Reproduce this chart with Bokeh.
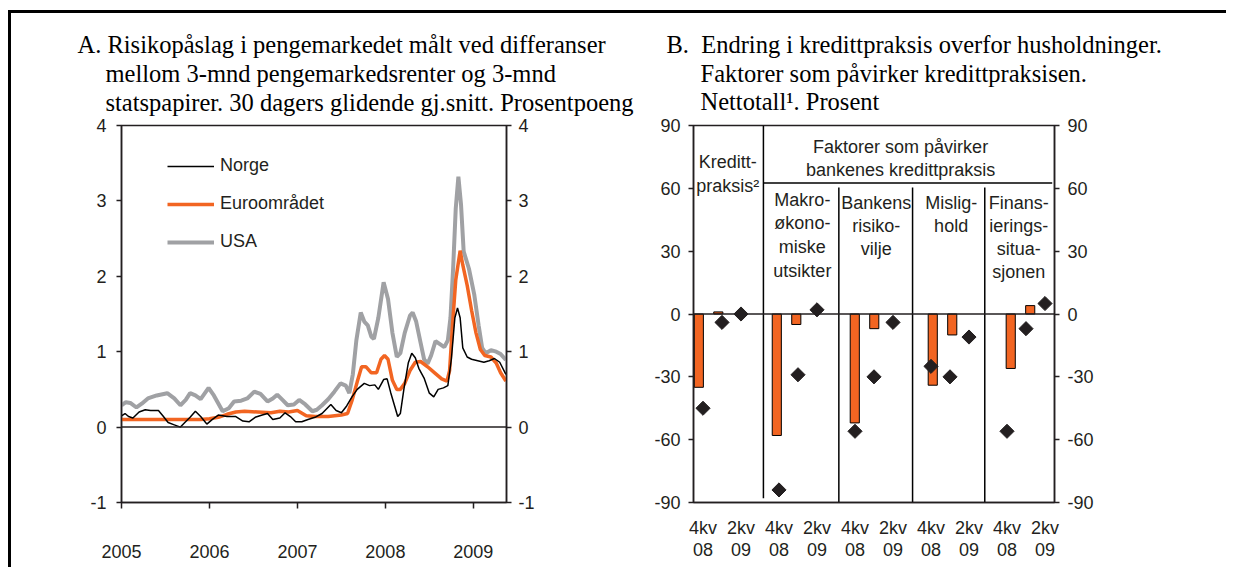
from bokeh.plotting import figure
from bokeh.models import (Range1d, LinearAxis, FixedTicker, Span, Spacer,
                          Legend, LegendItem, NumeralTickFormatter)
from bokeh.layouts import row, column
from bokeh.embed import file_html
from bokeh.resources import INLINE
from bokeh.core.properties import value

# ---------------- Panel A data (decimal years, percentage points) ----------------
norge_t = [2005.00, 2005.04, 2005.08, 2005.13, 2005.20, 2005.27, 2005.33, 2005.42, 2005.47, 2005.53,
           2005.60, 2005.67, 2005.72, 2005.78, 2005.84, 2005.90, 2005.97, 2006.03, 2006.10, 2006.20,
           2006.30, 2006.38, 2006.45, 2006.52, 2006.60, 2006.66, 2006.72, 2006.80, 2006.86, 2006.92,
           2006.98, 2007.05, 2007.12, 2007.20, 2007.28, 2007.38, 2007.44, 2007.50, 2007.56, 2007.62,
           2007.68, 2007.76, 2007.82, 2007.88, 2007.92, 2007.98, 2008.02, 2008.06, 2008.10, 2008.14,
           2008.17, 2008.21, 2008.26, 2008.30, 2008.34, 2008.38, 2008.44, 2008.50, 2008.55, 2008.60,
           2008.66, 2008.71, 2008.75, 2008.79, 2008.82, 2008.85, 2008.88, 2008.93, 2008.98, 2009.05,
           2009.12, 2009.18, 2009.24, 2009.30, 2009.37]
norge_v = [0.15, 0.18, 0.14, 0.12, 0.20, 0.23, 0.22, 0.22, 0.15, 0.06,
           0.03, 0.00, 0.06, 0.13, 0.21, 0.14, 0.04, 0.10, 0.16, 0.14,
           0.14, 0.08, 0.07, 0.13, 0.16, 0.18, 0.10, 0.12, 0.19, 0.14,
           0.07, 0.07, 0.10, 0.13, 0.18, 0.30, 0.22, 0.19, 0.28, 0.40,
           0.50, 0.58, 0.55, 0.56, 0.50, 0.63, 0.64, 0.46, 0.30, 0.14,
           0.18, 0.50, 0.85, 0.98, 0.92, 0.78, 0.65, 0.45, 0.40, 0.50,
           0.52, 0.55, 0.90, 1.45, 1.58, 1.45, 1.05, 0.93, 0.90, 0.88,
           0.86, 0.88, 0.91, 0.86, 0.70]

euro_t = [2005.00, 2005.30, 2005.60, 2005.90, 2006.00, 2006.10, 2006.20, 2006.30, 2006.40, 2006.55,
          2006.70, 2006.80, 2006.90, 2007.00, 2007.10, 2007.20, 2007.35, 2007.50, 2007.57, 2007.62,
          2007.68, 2007.73, 2007.78, 2007.84, 2007.90, 2007.95, 2007.99, 2008.03, 2008.08, 2008.13,
          2008.17, 2008.22, 2008.28, 2008.34, 2008.40, 2008.48, 2008.56, 2008.64, 2008.70, 2008.73,
          2008.76, 2008.80, 2008.85, 2008.88, 2008.93, 2008.98, 2009.03, 2009.08, 2009.13, 2009.20,
          2009.26, 2009.31, 2009.37]
euro_v = [0.10, 0.10, 0.10, 0.10, 0.11, 0.13, 0.17, 0.20, 0.21, 0.20,
          0.19, 0.21, 0.20, 0.22, 0.15, 0.14, 0.14, 0.16, 0.18, 0.35,
          0.60, 0.80, 0.80, 0.72, 0.72, 0.90, 0.95, 0.90, 0.62, 0.50,
          0.50, 0.58, 0.75, 0.86, 0.87, 0.80, 0.72, 0.64, 0.61, 0.75,
          1.30, 1.95, 2.34, 2.15, 1.88, 1.55, 1.25, 1.03, 0.95, 0.93,
          0.85, 0.72, 0.61]

usa_t = [2005.00, 2005.05, 2005.10, 2005.17, 2005.23, 2005.30, 2005.40, 2005.52, 2005.60, 2005.67,
         2005.73, 2005.78, 2005.84, 2005.90, 2005.99, 2006.05, 2006.15, 2006.22, 2006.28, 2006.36,
         2006.43, 2006.51, 2006.58, 2006.66, 2006.72, 2006.77, 2006.83, 2006.89, 2006.96, 2007.02,
         2007.09, 2007.17, 2007.22, 2007.28, 2007.35, 2007.42, 2007.49, 2007.55, 2007.59, 2007.63,
         2007.67, 2007.72, 2007.76, 2007.80, 2007.84, 2007.87, 2007.92, 2007.98, 2008.03, 2008.08,
         2008.13, 2008.17, 2008.22, 2008.28, 2008.31, 2008.35, 2008.40, 2008.44, 2008.48, 2008.52,
         2008.57, 2008.62, 2008.67, 2008.71, 2008.74, 2008.77, 2008.80, 2008.83, 2008.86, 2008.89,
         2008.95, 2009.01, 2009.06, 2009.10, 2009.14, 2009.20, 2009.26, 2009.31, 2009.37]
usa_v = [0.29, 0.33, 0.32, 0.26, 0.31, 0.38, 0.42, 0.45, 0.38, 0.29,
         0.36, 0.45, 0.42, 0.37, 0.52, 0.42, 0.21, 0.25, 0.34, 0.35,
         0.38, 0.47, 0.44, 0.34, 0.38, 0.43, 0.36, 0.29, 0.30, 0.36,
         0.30, 0.21, 0.23, 0.29, 0.37, 0.47, 0.58, 0.55, 0.45, 0.70,
         1.15, 1.52, 1.40, 1.35, 1.20, 1.17, 1.45, 1.92, 1.70, 1.25,
         0.93, 0.98, 1.25, 1.48, 1.52, 1.40, 1.12, 0.90, 0.84, 0.95,
         1.14, 1.10, 1.06, 1.15, 1.45, 2.10, 2.90, 3.32, 2.95, 2.33,
         2.10, 1.76, 1.35, 1.05, 0.98, 1.02, 1.00, 0.97, 0.89]

year_ticks = [2005, 2006, 2007, 2008, 2009]
a_y_ticks = [-1, 0, 1, 2, 3, 4]

# ---------------- Panel B data (net figures, percent) ----------------
groups = ["Kredittpraksis", "Makroøkonomiske utsikter", "Bankens risikovilje",
          "Mislighold", "Finansieringssituasjonen"]
bar_4kv08 = [-35, -58, -52, -34, -26]
bar_1kv09 = [1, -5, -7, -10, 4]
dia_4kv08 = [-45, -84, -56, -25, -56]
dia_1kv09 = [-4, -29, -30, -30, -7]
dia_2kv09 = [0, 2, -4, -11, 5]
quarter_names = ["4kv", "2kv"]
quarter_years = ["08", "09"]
b_y_ticks = [-90, -60, -30, 0, 30, 60, 90]

# ---------------- titles ----------------
title_a = ["A. Risikopåslag i pengemarkedet målt ved differanser",
           "mellom 3-mnd pengemarkedsrenter og 3-mnd",
           "statspapirer. 30 dagers glidende gj.snitt. Prosentpoeng"]
title_b = ["B. \u00a0Endring i kredittpraksis overfor husholdninger.",
           "Faktorer som påvirker kredittpraksisen.",
           "Nettotall¹. Prosent"]

# ---------------- styling ----------------
ORANGE = "#F26522"
GREY = "#A0A1A4"
INK = "#231F20"
SANS = "Liberation Sans"
SERIF = "Liberation Serif"
WA, WB = 639, 576
HEAD_H = 104
H = 450


def hyphen_labels(ticks):
    return {t: str(t) for t in ticks if t < 0}


def style_axis(ax, tick_out, standoff):
    ax.axis_line_color = INK
    ax.axis_line_width = 1.5
    ax.major_tick_line_color = INK
    ax.major_tick_line_width = 1.5
    ax.major_tick_in = 0
    ax.major_tick_out = tick_out
    ax.minor_tick_line_color = None
    ax.major_label_text_font = SANS
    ax.major_label_text_font_size = "18px"
    ax.major_label_text_color = INK
    ax.major_label_standoff = standoff


# ================= Header strip with the two panel titles =================
head = figure(width=WA + WB, height=HEAD_H, x_range=Range1d(0, WA + WB), y_range=Range1d(HEAD_H, 0),
              x_axis_location=None, y_axis_location=None, output_backend="svg", toolbar_location=None,
              min_border_left=0, min_border_right=0, min_border_top=0, min_border_bottom=0)
head.xgrid.visible = False
head.ygrid.visible = False
head.outline_line_color = None
head_x = [66, 94, 94, WA + 16, WA + 50, WA + 50]
head_y = [31, 60, 89, 31, 60, 88]
head.text(x=head_x, y=head_y, text=title_a + title_b, text_font=value(SERIF),
          text_font_size="24.5px", text_color="black", text_align="left", text_baseline="middle")

# ================= Panel A =================
pA = figure(width=WA, height=H, x_range=Range1d(2005, 2009.377), y_range=Range1d(-1, 4),
            output_backend="svg", toolbar_location=None,
            min_border_left=110, min_border_right=144, min_border_top=8, min_border_bottom=65)
pA.xgrid.visible = False
pA.ygrid.visible = False
pA.outline_line_color = INK
pA.outline_line_width = 1.5

pA.xaxis.ticker = FixedTicker(ticks=year_ticks)
pA.xaxis.formatter = NumeralTickFormatter(format="0")
pA.yaxis.ticker = FixedTicker(ticks=a_y_ticks)
pA.yaxis.major_label_overrides = hyphen_labels(a_y_ticks)
style_axis(pA.xaxis[0], 6, 36)
style_axis(pA.yaxis[0], 5, 10)
ra = LinearAxis(ticker=FixedTicker(ticks=a_y_ticks), major_label_overrides=hyphen_labels(a_y_ticks))
style_axis(ra, 5, 7)
pA.add_layout(ra, "right")

pA.add_layout(Span(location=0, dimension="width", line_color=INK, line_width=1.5))

r_usa = pA.line(usa_t, usa_v, line_color=GREY, line_width=4)
r_euro = pA.line(euro_t, euro_v, line_color=ORANGE, line_width=3.5)
r_norge = pA.line(norge_t, norge_v, line_color="black", line_width=1.5)

legA = Legend(items=[LegendItem(label="Norge", renderers=[r_norge]),
                     LegendItem(label="Euroområdet", renderers=[r_euro]),
                     LegendItem(label="USA", renderers=[r_usa])],
              location=(46, 250), padding=0, margin=0, spacing=17,
              glyph_width=47, glyph_height=20, label_height=20, label_standoff=6,
              label_text_font=SANS, label_text_font_size="18px", label_text_color=INK,
              border_line_color=None, background_fill_alpha=0)
pA.add_layout(legA)

# ================= Panel B =================
pB = figure(width=WB, height=H, x_range=Range1d(-0.5, 18.5), y_range=Range1d(-90, 90),
            output_backend="svg", toolbar_location=None,
            min_border_left=43, min_border_right=172, min_border_top=7, min_border_bottom=63)
pB.xgrid.visible = False
pB.ygrid.visible = False
pB.outline_line_color = INK
pB.outline_line_width = 1.5

slot_4kv08 = [4 * g for g in range(len(groups))]
slot_1kv09 = [4 * g + 1 for g in range(len(groups))]
slot_2kv09 = [4 * g + 2 for g in range(len(groups))]
tick_slots = sorted(slot_4kv08 + slot_2kv09)

name_over, year_over = {}, {}
for s in slot_4kv08:
    name_over[s], year_over[s] = quarter_names[0], quarter_years[0]
for s in slot_2kv09:
    name_over[s], year_over[s] = quarter_names[1], quarter_years[1]

pB.xaxis.ticker = FixedTicker(ticks=tick_slots)
pB.xaxis.major_label_overrides = name_over
style_axis(pB.xaxis[0], 0, 15)
pB.xaxis.major_tick_line_color = None
xb2 = LinearAxis(ticker=FixedTicker(ticks=tick_slots), major_label_overrides=year_over)
style_axis(xb2, 0, 2)
xb2.axis_line_color = None
xb2.major_tick_line_color = None
pB.add_layout(xb2, "below")

pB.yaxis.ticker = FixedTicker(ticks=b_y_ticks)
pB.yaxis.major_label_overrides = hyphen_labels(b_y_ticks)
style_axis(pB.yaxis[0], 5, 8)
rb = LinearAxis(ticker=FixedTicker(ticks=b_y_ticks), major_label_overrides=hyphen_labels(b_y_ticks))
style_axis(rb, 5, 8)
pB.add_layout(rb, "right")

# bars are drawn on a slightly stretched category grid (as in the source chart)
BAR_STRETCH, BAR_SHIFT, BAR_W = 1.026, -0.22, 0.48
pB.vbar(x=[s * BAR_STRETCH + BAR_SHIFT for s in slot_4kv08], top=bar_4kv08, bottom=0, width=BAR_W,
        fill_color=ORANGE, line_color="black", line_width=1)
pB.vbar(x=[s * BAR_STRETCH + BAR_SHIFT for s in slot_1kv09], top=bar_1kv09, bottom=0, width=BAR_W,
        fill_color=ORANGE, line_color="black", line_width=1)

pB.add_layout(Span(location=0, dimension="width", line_color=INK, line_width=1.5))

for slots, vals in ((slot_4kv08, dia_4kv08), (slot_1kv09, dia_1kv09), (slot_2kv09, dia_2kv09)):
    pB.scatter(x=slots, y=vals, marker="square", angle=45, angle_units="deg", size=10,
               fill_color=INK, line_color=INK)

# separators
sep_x = [3.18, 7.15, 11.03, 14.83]
pB.segment(x0=[sep_x[0]], y0=[90], x1=[sep_x[0]], y1=[-88], line_color="black", line_width=1.5)
pB.segment(x0=sep_x[1:], y0=[60.4] * 3, x1=sep_x[1:], y1=[-90] * 3, line_color="black", line_width=1.5)
pB.segment(x0=[sep_x[0]], y0=[62.6], x1=[18.38], y1=[62.6], line_color="black", line_width=1.5)

txt_x = [1.3, 1.3, 10.4, 10.4,
         5.23, 5.23, 5.23, 5.23,
         9.12, 9.12, 9.12,
         13.06, 13.06,
         16.62, 16.62, 16.62, 16.62]
txt_y = [72.5, 61.0, 79.6, 68.6,
         54.4, 43.4, 31.8, 20.5,
         52.9, 41.8, 30.8,
         52.9, 41.8,
         52.9, 41.8, 30.8, 20.0]
txt = ["Kreditt-", "praksis²", "Faktorer som påvirker", "bankenes kredittpraksis",
       "Makro-", "økono-", "miske", "utsikter",
       "Bankens", "risiko-", "vilje",
       "Mislig-", "hold",
       "Finans-", "ierings-", "situa-", "sjonen"]
pB.text(x=txt_x, y=txt_y, text=txt, text_font=value(SANS), text_font_size="18px",
        text_color=INK, text_align="center", text_baseline="middle")

# outer frame: black top and left rules around the two panels; offsets by blank spacers
top_rule = Spacer(width=WA + WB + 3, height=3, styles={"background-color": "black"})
left_rule = Spacer(width=3, height=HEAD_H + H, styles={"background-color": "black"})
body = column(head, row(pA, pB, spacing=0), spacing=0)
framed = column(top_rule, row(left_rule, body, spacing=0), spacing=0)
layout = column(Spacer(width=1, height=10),
                row(Spacer(width=8, height=1), framed, spacing=0), spacing=0)
open("out.html", "w").write(file_html(layout, INLINE))
